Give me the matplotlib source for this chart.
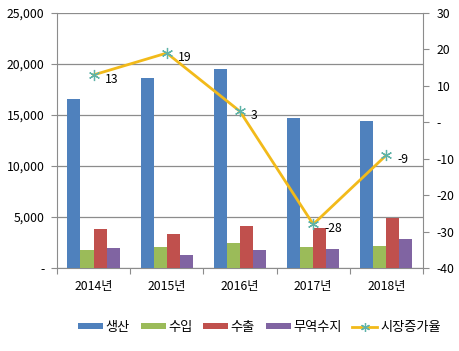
import numpy as np
import matplotlib.pyplot as plt
from matplotlib.ticker import FuncFormatter

plt.rcParams['font.family'] = ['Noto Sans CJK KR', 'DejaVu Sans']

# 데이터
years = ['2014년', '2015년', '2016년', '2017년', '2018년']
production = [16600, 18600, 19500, 14700, 14400]   # 생산
imports = [1750, 2100, 2450, 2100, 2150]           # 수입
exports = [3800, 3350, 4150, 3950, 4900]           # 수출
balance = [2000, 1300, 1750, 1900, 2800]           # 무역수지
growth = [13, 19, 3, -28, -9]                      # 시장증가율

bar_names = ['생산', '수입', '수출', '무역수지']
bar_colors = ['#4F81BD', '#9BBB59', '#C0504D', '#8064A2']
line_color = '#F2BA1A'
marker_color = '#5FB3A8'
grid_color = '#8C8C8C'

fig = plt.figure(figsize=(4.59, 3.51), dpi=100)
ax = fig.add_axes([0.124, 0.2365, 0.7976, 0.7265])
ax2 = ax.twinx()

x = np.arange(len(years))
w = 0.178
series = [production, imports, exports, balance]
for i, (vals, name, col) in enumerate(zip(series, bar_names, bar_colors)):
    ax.bar(x + (i - 1.5) * w, vals, width=w, color=col, label=name, zorder=3)

ax.set_xlim(-0.5, len(years) - 0.5)
ax.set_ylim(0, 25000)
ax.set_yticks(np.arange(0, 25001, 5000))
ax.yaxis.set_major_formatter(FuncFormatter(lambda v, p: '-' if v == 0 else f'{int(v):,}'))
ax.grid(axis='y', color=grid_color, linewidth=0.9, zorder=0)
ax.set_axisbelow(True)

# category boundary ticks
ax.set_xticks(np.arange(-0.5, len(years)), minor=False)
ax.set_xticklabels([])
ax.set_xticks(x, minor=True)
ax.set_xticklabels(years, minor=True)
ax.tick_params(axis='x', which='major', length=4, color=grid_color)
ax.tick_params(axis='x', which='minor', length=0, pad=9, labelsize=8.8)
ax.tick_params(axis='y', length=4, color=grid_color, labelsize=8.8, pad=5)

for s in ['top']:
    ax.spines[s].set_visible(False)
    ax2.spines[s].set_visible(False)
for s in ['left', 'bottom']:
    ax.spines[s].set_color(grid_color)
ax.spines['right'].set_visible(False)
ax2.spines['left'].set_visible(False)
ax2.spines['bottom'].set_visible(False)
ax2.spines['right'].set_color(grid_color)

ax2.plot(x, growth, color=line_color, linewidth=2.0, marker=(6, 2, 0),
         markersize=8, markeredgecolor=marker_color, markeredgewidth=0.9,
         label='시장증가율', zorder=5)
for xi, g in zip(x, growth):
    ax2.annotate(str(g), (xi, g), xytext=(8, -3), textcoords='offset points',
                 fontsize=8.8, va='center', ha='left')
ax2.set_ylim(-40, 30)
ax2.set_yticks(np.arange(-40, 31, 10))
ax2.yaxis.set_major_formatter(FuncFormatter(lambda v, p: '-' if v == 0 else f'{int(v)}'))
ax2.tick_params(axis='y', length=4, color=grid_color, labelsize=8.8, pad=6)

h1, l1 = ax.get_legend_handles_labels()
h2, l2 = ax2.get_legend_handles_labels()
fig.legend(h1 + h2, l1 + l2, loc='center', bbox_to_anchor=(0.565, 0.068), ncol=5,
           frameon=False, fontsize=9.5, handlelength=1.9, handleheight=0.3,
           handletextpad=0.2, columnspacing=0.8, markerscale=0.8)

fig.savefig('out.png', dpi=100)
